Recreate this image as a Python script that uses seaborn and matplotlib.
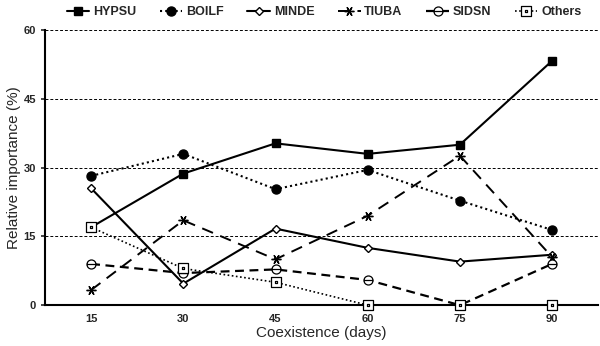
import numpy as np
import pandas as pd
import matplotlib
matplotlib.use("Agg")
import matplotlib.pyplot as plt
from matplotlib.path import Path
import seaborn as sns

# Data
days = ["15", "30", "45", "60", "75", "90"]
hypsu = [17.0, 28.7, 35.3, 33.0, 35.0, 53.3]
boilf = [28.2, 33.0, 25.3, 29.5, 22.8, 16.4]
minde = [25.5, 4.7, 16.7, 12.5, 9.5, 11.0]
tiuba = [3.3, 18.5, 10.0, 19.5, 32.6, 10.5]
sidsn = [9.0, 7.0, 7.8, 5.5, 0.0, 9.0]
others = [17.0, 8.0, 5.0, 0.0, 0.0, 0.0]

series = {
    "HYPSU": hypsu, "BOILF": boilf, "MINDE": minde,
    "TIUBA": tiuba, "SIDSN": sidsn, "Others": others,
}
rows = []
for name, vals in series.items():
    for i, v in enumerate(vals):
        rows.append({"species": name, "pos": i, "value": v})
df = pd.DataFrame(rows)

# circle with a bar, square with a dot
circ_bar = Path.make_compound_path(
    Path.unit_circle(),
    Path([[-1, 0], [1, 0]], [Path.MOVETO, Path.LINETO]))
sq = Path([[-1, -1], [1, -1], [1, 1], [-1, 1], [-1, -1]],
          [Path.MOVETO, Path.LINETO, Path.LINETO, Path.LINETO, Path.CLOSEPOLY])
dot = Path([[-0.15, -0.15], [0.15, -0.15], [0.15, 0.15], [-0.15, 0.15], [-0.15, -0.15]],
           [Path.MOVETO, Path.LINETO, Path.LINETO, Path.LINETO, Path.CLOSEPOLY])
sq_dot = Path.make_compound_path(sq, dot)

sns.set_style("white")
plt.rcParams["font.family"] = ["Liberation Sans", "DejaVu Sans"]

styles = {
    "HYPSU": dict(marker="s", ls="-", lw=1.5, ms=6, mfc="black", mew=1.0),
    "BOILF": dict(marker="o", ls=(0, (1, 1.5)), lw=1.5, ms=6.5, mfc="black", mew=1.0),
    "MINDE": dict(marker="D", ls="-", lw=1.5, ms=4, mfc="white", mew=1.0),
    "TIUBA": dict(marker=(6, 2, 90), ls=(0, (6, 4)), lw=1.4, ms=7, mfc="black", mew=1.0),
    "SIDSN": dict(marker=circ_bar, ls=(0, (4, 2.5)), lw=1.6, ms=6.5, mfc="white", mew=0.9),
    "Others": dict(marker=sq_dot, ls=(0, (1, 1.5)), lw=1.2, ms=6.5, mfc="white", mew=0.9),
}

fig, ax = plt.subplots(figsize=(6.0, 3.46), dpi=100)
fig.subplots_adjust(left=0.075, right=0.997, bottom=0.118, top=0.913)

for name in series:
    st = styles[name]
    sub = df[df["species"] == name]
    sns.lineplot(data=sub, x="pos", y="value", ax=ax, color="black",
                 marker=st["marker"], linestyle=st["ls"], linewidth=st["lw"],
                 markersize=st["ms"], markerfacecolor=st["mfc"],
                 markeredgecolor="black", markeredgewidth=st["mew"],
                 label=name, clip_on=False, zorder=3)

ax.set_xlim(-0.5, 5.5)
ax.set_ylim(0, 60)
ax.set_yticks([0, 15, 30, 45, 60])
ax.set_xticks(range(len(days)))
ax.set_xticklabels(days)
ax.set_xticks(np.arange(-0.5, 5.6, 1.0), minor=True)
ax.tick_params(axis="x", which="major", length=0, labelsize=8, pad=6)
ax.tick_params(axis="x", which="minor", length=3, direction="in", width=1.2)
ax.tick_params(axis="y", length=3, direction="out", width=1.2, labelsize=8, left=True)
for lab in ax.get_xticklabels() + ax.get_yticklabels():
    lab.set_fontweight("bold")

for yv in [15, 30, 45, 60]:
    ax.axhline(yv, color="black", lw=0.7, ls=(0, (3, 2)), zorder=1)

sns.despine(ax=ax, top=True, right=True)
ax.spines["left"].set_linewidth(1.5)
ax.spines["bottom"].set_linewidth(1.5)
ax.spines["left"].set_color("black")
ax.spines["bottom"].set_color("black")

ax.set_xlabel("Coexistence (days)", fontsize=11, labelpad=2)
ax.set_ylabel("Relative importance (%)", fontsize=11, labelpad=2)

leg = ax.legend(loc="upper center", bbox_to_anchor=(0.54, 1.015),
                bbox_transform=fig.transFigure, ncol=6,
                frameon=False, handlelength=1.8, handletextpad=0.3,
                columnspacing=1.9, prop={"weight": "bold", "size": 9})

fig.savefig("out.png", dpi=100)
